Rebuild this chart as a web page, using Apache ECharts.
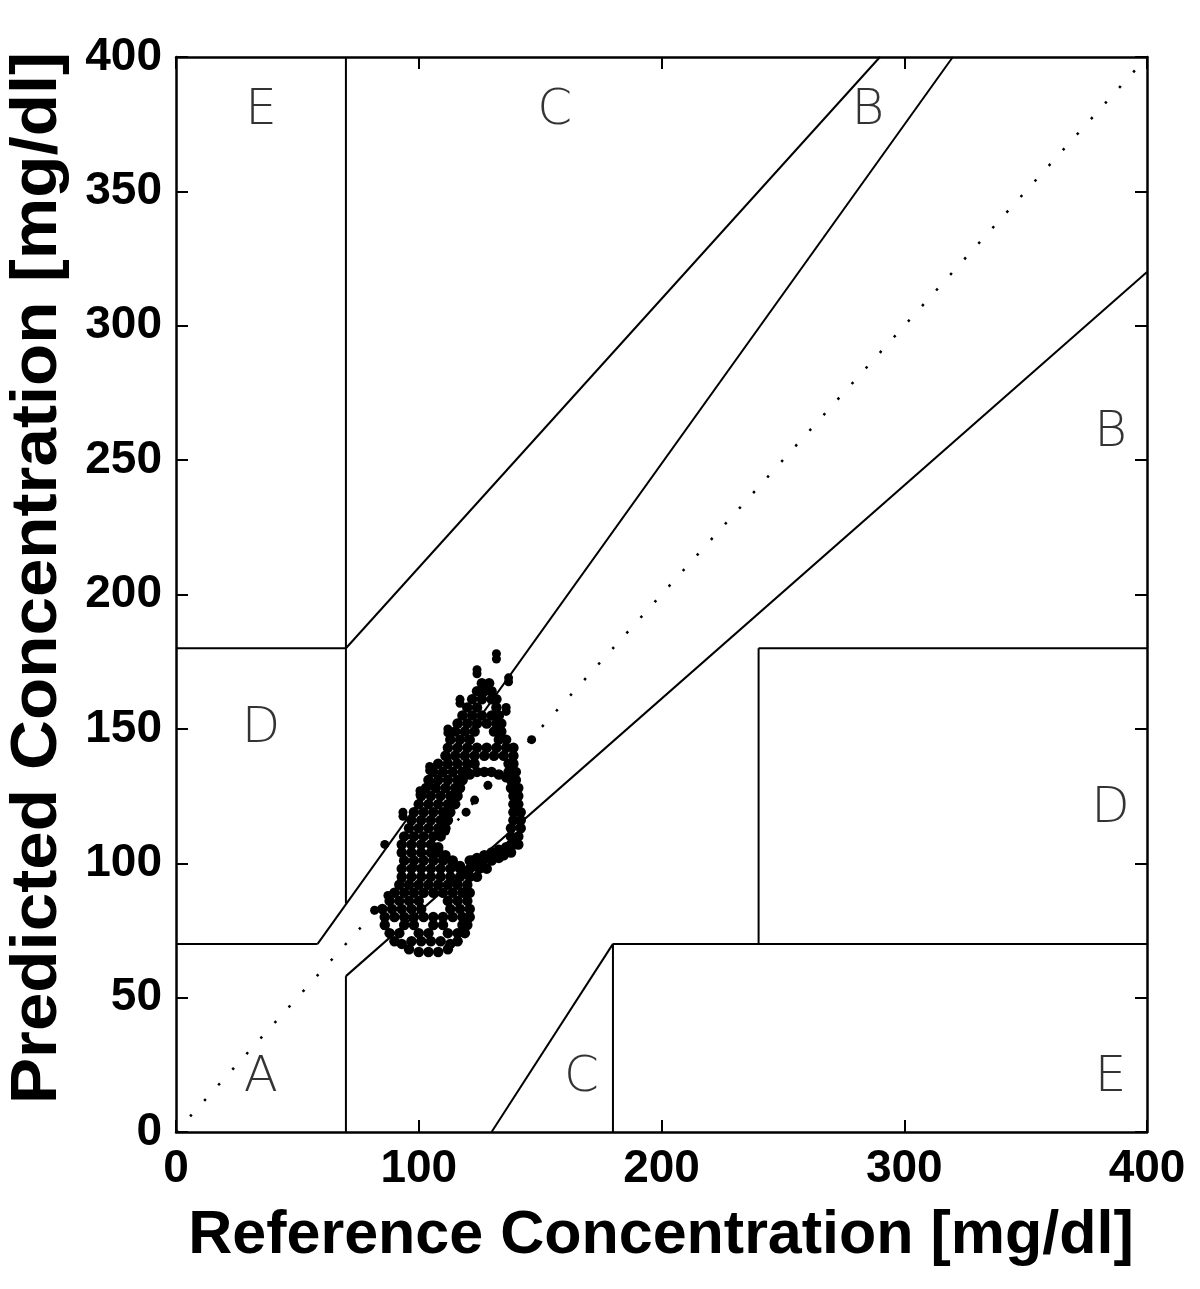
<!DOCTYPE html>
<html>
<head>
<meta charset="utf-8">
<script src="https://cdn.jsdelivr.net/npm/echarts@6/dist/echarts.min.js"></script>
<style>
html,body{margin:0;padding:0;background:#fff;}
#c{width:1200px;height:1289px;}
</style>
</head>
<body>
<div id="c"></div>
<script>
// ---- data ----
var xTicks = [0, 100, 200, 300, 400];
var yTicks = [0, 50, 100, 150, 200, 250, 300, 350, 400];
var xTitle = 'Reference Concentration [mg/dl]';
var yTitle = 'Predicted Concentration [mg/dl]';

// Clarke error grid boundary segments [x1,y1,x2,y2]
var gridSegments = [
  [0, 70, 58.33, 70],
  [58.33, 70, 320, 400],
  [70, 85, 70, 400],
  [0, 180, 70, 180],
  [70, 180, 290, 400],
  [70, 0, 70, 58],
  [70, 58, 400, 320],
  [180, 0, 180, 70],
  [180, 70, 400, 70],
  [240, 70, 240, 180],
  [240, 180, 400, 180],
  [130, 0, 180, 70]
];
var identityLine = [[0, 0], [400, 400]];

var zoneLabels = [
  ['E', 35, 380], ['C', 156, 380], ['B', 285, 380],
  ['B', 385, 260], ['D', 35, 150], ['D', 385, 120],
  ['A', 35, 20], ['C', 167, 20], ['E', 385, 20]
];

var lowerLobe = [
  [96,68],[100,67],[104,67],[108,67],[112,68],
  [90,71],[93,70],[97,71],[101,71],[105,71],[109,71],[113,70],[116,71],
  [88,74],[92,74],[100,74],[104,74],[112,74],[116,74],[119,74],
  [86,77],[94,77],[98,77],[106,77],[110,77],[118,77],[120,77],
  [86,80],[90,80],[94,80],[98,80],[102,80],[106,80],[110,80],[114,80],[118,80],[121,80],
  [85,83],[89,83],[93,83],[97,83],[101,83],[113,83],[117,83],[121,83],
  [88,86],[92,86],[96,86],[100,86],[112,86],[116,86],[120,86],
  [90,89],[94,89],[98,89],[102,89],[106,89],[110,89],[114,89],[118,89],[121,89],
  [92,92],[96,92],[100,92],[104,92],[108,92],[112,92],[116,92],[120,92],
  [93,95],[97,95],[101,95],[105,95],[109,95],[113,95],[117,95],[121,95],[124,95],
  [93,98],[97,98],[101,98],[105,98],[109,98],[113,98],[117,98],[121,98],[125,98],[128,98],
  [94,101],[98,101],[102,101],[106,101],[110,101],[114,100],[122,101],[126,101],[130,101],[133,102]
];
var leftColumn = [
  [93,104],[97,104],[101,104],[105,104],[108,104],
  [93,107],[97,107],[101,107],[105,107],[108,106],
  [94,110],[98,110],[102,110],[106,110],[109,110],
  [96,113],[100,113],[104,113],[108,113],[111,113],
  [97,116],[101,116],[105,116],[109,116],[112,116],
  [98,119],[102,119],[106,119],[110,119],[113,119],
  [100,122],[104,122],[108,122],[112,122],[115,122],
  [101,125],[105,125],[109,125],[113,125],[116,125],
  [103,128],[107,128],[111,128],[115,128],[117,128],
  [104,131],[108,131],[112,131],[116,131],[118,131],
  [106,134],[110,134],[114,134],[118,134],[120,134],
  [108,137],[112,137],[116,137],[120,137],[123,137],
  [111,140],[115,140],[119,140],[123,140],[127,140],[131,140],[135,140],[139,140],
  [112,143],[116,143],[120,143],[124,143],[128,143],[132,143],[136,143],[139,143],
  [113,146],[117,146],[121,146],[133,146],[136,146],
  [115,149],[119,149],[123,149],[131,149],[134,149],
  [116,152],[120,152],[124,152],[128,152],[132,152],[134,152],
  [118,155],[122,155],[126,155],[130,155],[133,155],
  [120,158],[124,158],[132,158],
  [122,161],[126,161],[130,161],[132,161],
  [124,164],[127,164],[130,164],
  [126,167],[129,167]
];
var rightBand = [
  [138,107],[141,107],[138,110],[141,110],[138,113],[142,113],[139,116],[142,116],
  [139,119],[142,119],[139,122],[141,122],[139,125],[141,125],[138,128],[141,128],
  [138,131],[140,131],[137,134],[140,134],[137,137],[139,137]
];
var innerCurves = [
  [118,131],[121,133],[124,134],[127,134],[130,134],[133,133],[136,132],
  [138,104],[135,103],[132,104],[129,102],[126,100],[123,99],[120,97],
  [139,107],[136,106],[133,105],[130,104],[127,103],[124,102],[121,101],
  [117,99],[114,101],[111,103],[108,105]
];
var isolated = [
  [132,178],[132,176],[124,172],[124,170.5],[137,169],[137,167.5],[117,161],[117,159.5],[136,158],[136,156.5],
  [112,150],[112,148.5],[104.5,136],[104.5,134.5],[100.5,127],[100.5,125.5],[93.5,119],[93.5,117.5],
  [86,107],[128.5,129],[123,123.5],[119.5,119],[111,112],[93,94.3],[87.3,88],[81.8,82.5],[146.5,146]
];

// ---- chart ----
var chart = echarts.init(document.getElementById('c'), null, {renderer: 'canvas'});
var FONT = 'Liberation Sans';
var series = [];
gridSegments.forEach(function (s) {
  series.push({
    type: 'line', symbol: 'none', silent: true,
    data: [[s[0], s[1]], [s[2], s[3]]],
    lineStyle: {color: '#000', width: 2}
  });
});
series.push({
  type: 'line', symbol: 'none', silent: true, data: identityLine,
  lineStyle: {color: '#000', width: 2.5, type: [2.5, 18.5], cap: 'butt'}
});
series.push({
  type: 'scatter', symbol: 'circle', symbolSize: 10.5,
  data: [].concat(lowerLobe, leftColumn, rightBand, innerCurves),
  itemStyle: {color: '#000', opacity: 1}
});
series.push({
  type: 'scatter', symbol: 'circle', symbolSize: 9,
  data: isolated,
  itemStyle: {color: '#000', opacity: 1}
});
series.push({
  type: 'scatter', symbolSize: 0, silent: true,
  data: zoneLabels.map(function (z) { return {value: [z[1], z[2]], name: z[0]}; }),
  label: {show: true, position: 'inside', formatter: '{b}', color: '#000',
          fontFamily: 'DejaVu Sans', fontWeight: 200, fontSize: 50}
});

function axisCommon(showLabel, ticks) {
  return {
    min: 0, max: 400, type: 'value',
    axisLine: {show: true, onZero: false, lineStyle: {color: '#000', width: 2.5}},
    axisTick: {show: true, inside: true, length: 12, lineStyle: {color: '#000', width: 2}},
    axisLabel: {show: showLabel, color: '#000', fontFamily: FONT, fontWeight: 'bold', fontSize: 46, margin: 14,
                formatter: function (v) { return ticks.indexOf(v) >= 0 ? String(v) : ''; }},
    splitLine: {show: false}
  };
}
function xAx(pos, showLabel) {
  var a = axisCommon(showLabel, xTicks); a.position = pos; a.interval = 100; return a;
}
function yAx(pos, showLabel) {
  var a = axisCommon(showLabel, yTicks); a.position = pos; a.interval = 50; return a;
}

chart.setOption({
  animation: false,
  backgroundColor: '#fff',
  grid: {left: 176, right: 53, top: 57, bottom: 157, containLabel: false},
  xAxis: [xAx('bottom', true), xAx('top', false)],
  yAxis: [yAx('left', true), yAx('right', false)],
  graphic: [
    {type: 'text', x: 661, y: 1236, style: {text: xTitle, fontFamily: FONT, fontWeight: 'bold', fontSize: 61, fill: '#000', align: 'center', verticalAlign: 'middle'}},
    {type: 'text', x: 38, y: 578, rotation: Math.PI / 2, scaleX: 1.08, style: {text: yTitle, fontFamily: FONT, fontWeight: 'bold', fontSize: 64, fill: '#000', align: 'center', verticalAlign: 'middle'}}
  ],
  series: series
});
</script>
</body>
</html>
